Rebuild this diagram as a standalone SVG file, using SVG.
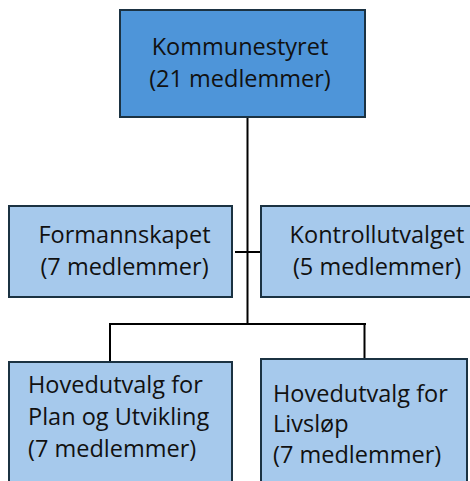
<svg xmlns="http://www.w3.org/2000/svg" width="470" height="481" viewBox="0 0 470 481">
<style>
.box{stroke:#1b3242;stroke-width:2}
.top{fill:#4e95d9}
.sub{fill:#a6c9ec}
text{font-family:"Open Sans","Liberation Sans",sans-serif;font-size:23.5px;fill:#111}
.ln{stroke:#000;stroke-width:2;fill:none}
</style>
<rect width="470" height="481" fill="#fff"/>
<g id="connectors">
<line class="ln" x1="247.5" y1="117" x2="247.5" y2="324"/>
<line class="ln" x1="235" y1="252" x2="261" y2="252"/>
<line class="ln" x1="109" y1="324" x2="366" y2="324"/>
<line class="ln" x1="110" y1="324" x2="110" y2="362"/>
<line class="ln" x1="364.5" y1="324" x2="364.5" y2="359"/>
</g>
<g id="kommunestyret">
<rect class="box top" x="120" y="10" width="245" height="107"/>
<text x="240" y="55" text-anchor="middle">Kommunestyret</text>
<text x="240" y="87" text-anchor="middle">(21 medlemmer)</text>
</g>
<g id="formannskapet">
<rect class="box sub" x="9" y="206" width="223" height="91"/>
<text x="124.5" y="243" text-anchor="middle">Formannskapet</text>
<text x="124.5" y="275" text-anchor="middle">(7 medlemmer)</text>
</g>
<g id="kontrollutvalget">
<rect class="box sub" x="261" y="206" width="215" height="91"/>
<text x="377" y="243" text-anchor="middle">Kontrollutvalget</text>
<text x="377" y="275" text-anchor="middle">(5 medlemmer)</text>
</g>
<g id="plan">
<rect class="box sub" x="9" y="362" width="223" height="130"/>
<text x="28" y="393">Hovedutvalg for</text>
<text x="28" y="425">Plan og Utvikling</text>
<text x="28" y="457">(7 medlemmer)</text>
</g>
<g id="livslop">
<rect class="box sub" x="261" y="359" width="206" height="130"/>
<text x="273" y="402">Hovedutvalg for</text>
<text x="273" y="432">Livsløp</text>
<text x="273" y="463">(7 medlemmer)</text>
</g>
</svg>
